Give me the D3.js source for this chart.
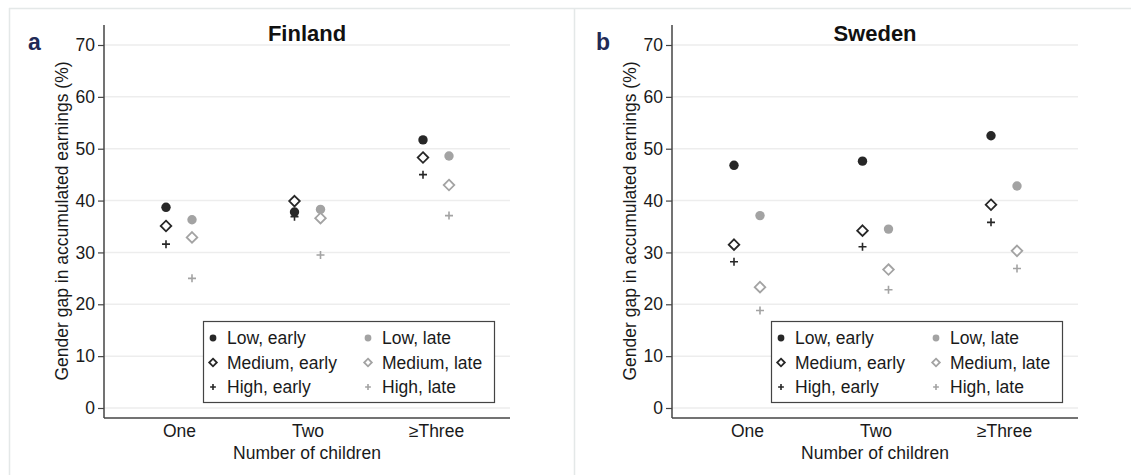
<!DOCTYPE html>
<html><head><meta charset="utf-8">
<script src="https://cdn.jsdelivr.net/npm/d3@7"></script>
<style>body{margin:0;background:#fff} text{font-family:"Liberation Sans",Arial,sans-serif}</style>
</head><body><svg id="c" width="1131" height="475"></svg>
<script>
// ---- data ----
const categories = ["One", "Two", "≥Three"];
const yTicks = [0, 10, 20, 30, 40, 50, 60, 70];
const seriesNames = ["Low, early", "Medium, early", "High, early", "Low, late", "Medium, late", "High, late"];
const finlandLowEarly    = [38.7, 37.8, 51.7];
const finlandMediumEarly = [35.1, 39.9, 48.3];
const finlandHighEarly   = [31.6, 36.9, 45.0];
const finlandLowLate     = [36.3, 38.3, 48.6];
const finlandMediumLate  = [32.9, 36.6, 43.0];
const finlandHighLate    = [25.0, 29.5, 37.1];
const swedenLowEarly     = [46.8, 47.6, 52.5];
const swedenMediumEarly  = [31.5, 34.2, 39.2];
const swedenHighEarly    = [28.2, 31.1, 35.8];
const swedenLowLate      = [37.1, 34.5, 42.8];
const swedenMediumLate   = [23.3, 26.7, 30.3];
const swedenHighLate     = [18.8, 22.8, 26.9];

const panels = [
  {label: "a", title: "Finland", dx: 0,
   series: [finlandLowEarly, finlandMediumEarly, finlandHighEarly, finlandLowLate, finlandMediumLate, finlandHighLate]},
  {label: "b", title: "Sweden", dx: 568,
   series: [swedenLowEarly, swedenMediumEarly, swedenHighEarly, swedenLowLate, swedenMediumLate, swedenHighLate]}
];

// ---- styles ----
const DARK = "#272727", LIGHT = "#a3a3a3";
const seriesStyle = [
  {shape: "circle", color: DARK, off: -13},
  {shape: "diamond", color: DARK, off: -13},
  {shape: "plus", color: DARK, off: -13},
  {shape: "circle", color: LIGHT, off: 13},
  {shape: "diamond", color: LIGHT, off: 13},
  {shape: "plus", color: LIGHT, off: 13}
];

const svg = d3.select("#c");
svg.append("rect").attr("width", 1131).attr("height", 475).attr("fill", "#fff");
const frame = svg.append("g").attr("stroke", "#e4e8e8").attr("stroke-width", 1.5).attr("fill", "none");
frame.append("line").attr("x1", 9).attr("x2", 1131).attr("y1", 8.5).attr("y2", 8.5);
frame.append("line").attr("x1", 9.5).attr("x2", 9.5).attr("y1", 8).attr("y2", 475);
frame.append("line").attr("x1", 574.5).attr("x2", 574.5).attr("y1", 8).attr("y2", 475);

function drawMarker(g, shape, color, x, y, scale) {
  const k = scale || 1;
  if (shape === "circle") {
    g.append("circle").attr("cx", x).attr("cy", y).attr("r", 4.7 * k).attr("fill", color);
  } else if (shape === "diamond") {
    const s = 5.3 * k;
    g.append("path").attr("d", `M${x},${y - s}L${x + s},${y}L${x},${y + s}L${x - s},${y}Z`)
      .attr("fill", "#fff").attr("stroke", color).attr("stroke-width", 1.8);
  } else {
    const s = 4 * k;
    g.append("path").attr("d", `M${x - s},${y}H${x + s}M${x},${y - s}V${y + s}`)
      .attr("fill", "none").attr("stroke", color).attr("stroke-width", 1.6);
  }
}

panels.forEach(p => {
  const g = svg.append("g").attr("transform", `translate(${p.dx},0)`);
  const axisX = 104, plotRight = 510, axisTop = 25, axisBottom = 418;
  const y = d3.scaleLinear().domain([0, 70]).range([408, 45]);
  const x = d3.scalePoint().domain(categories).range([179, 436]);

  g.append("g").selectAll("line").data(yTicks).join("line")
    .attr("x1", axisX).attr("x2", plotRight)
    .attr("y1", d => y(d)).attr("y2", d => y(d))
    .attr("stroke", "#ededed").attr("stroke-width", 1.5);

  const ya = g.append("g").attr("transform", `translate(${axisX},0)`)
    .call(d3.axisLeft(y).tickValues(yTicks).tickSize(6).tickPadding(3));
  ya.select(".domain").remove();
  ya.selectAll("line").attr("stroke", "#444").attr("stroke-width", 1.2);
  ya.selectAll("text").attr("font-size", 17.5).attr("fill", "#1a1a1a")
    .attr("font-family", "'Liberation Sans', Arial, sans-serif");
  g.append("line").attr("x1", axisX).attr("x2", axisX).attr("y1", axisTop).attr("y2", axisBottom)
    .attr("stroke", "#444").attr("stroke-width", 1.5);
  g.append("line").attr("x1", axisX).attr("x2", plotRight).attr("y1", axisBottom).attr("y2", axisBottom)
    .attr("stroke", "#444").attr("stroke-width", 1.5);
  const xa = g.append("g").attr("transform", `translate(0,${axisBottom})`)
    .call(d3.axisBottom(x).tickSize(0).tickPadding(7));
  xa.select(".domain").remove();
  xa.selectAll("text").attr("font-size", 17.5).attr("fill", "#1a1a1a")
    .attr("font-family", "'Liberation Sans', Arial, sans-serif");

  g.append("text").attr("x", 307).attr("y", 41).attr("text-anchor", "middle")
    .attr("font-size", 22).attr("font-weight", "bold").attr("fill", "#111").text(p.title);
  g.append("text").attr("x", 28).attr("y", 50)
    .attr("font-size", 23).attr("font-weight", "bold").attr("fill", "#1f2a56").text(p.label);
  g.append("text").attr("x", 307).attr("y", 459).attr("text-anchor", "middle")
    .attr("font-size", 17.5).attr("fill", "#1a1a1a").text("Number of children");
  g.append("text").attr("transform", "translate(68,221) rotate(-90)").attr("text-anchor", "middle")
    .attr("font-size", 17.5).attr("fill", "#1a1a1a").text("Gender gap in accumulated earnings (%)");

  const pts = g.append("g");
  p.series.forEach((vals, si) => {
    const st = seriesStyle[si];
    vals.forEach((v, ci) => drawMarker(pts, st.shape, st.color, x(categories[ci]) + st.off, y(v)));
  });

  const lg = g.append("g");
  lg.append("rect").attr("x", 203.5).attr("y", 321.5).attr("width", 291).attr("height", 81)
    .attr("fill", "#fff").attr("stroke", "#444").attr("stroke-width", 1.2);
  seriesNames.forEach((name, i) => {
    const col = i < 3 ? 0 : 1, row = i % 3;
    const sx = col === 0 ? 213 : 368, ty = 338 + row * 24.5;
    drawMarker(lg, seriesStyle[i].shape, seriesStyle[i].color, sx, ty, 0.72);
    lg.append("text").attr("x", sx + 14).attr("y", ty + 6).attr("font-size", 17.5)
      .attr("fill", "#1a1a1a").text(name);
  });
});
</script></body></html>
